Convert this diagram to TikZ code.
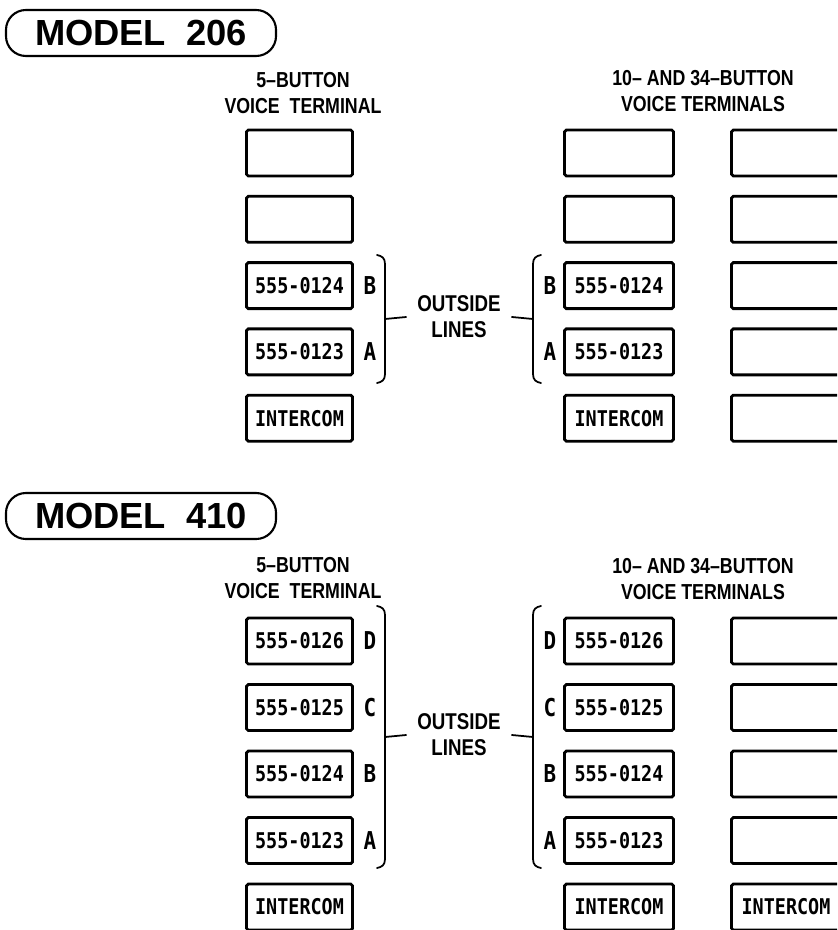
\documentclass[tikz,border=0pt]{standalone}
\usepackage{fontspec}
\setmainfont{Liberation Sans}
\newfontfamily\headfont{Liberation Sans}[FakeStretch=0.82]
\newfontfamily\keyfont{DejaVu Sans Mono}[FakeStretch=0.85]
\usetikzlibrary{positioning,calc}
\tikzset{
  titlebox/.style={draw, line width=1.8pt, rounded corners=17pt, minimum width=8.1cm, minimum height=1.38cm, inner sep=0pt, font=\bfseries\fontsize{31}{31}\selectfont},
  headlab/.style={align=center, font=\headfont\bfseries\fontsize{18.5}{22}\selectfont},
  keybox/.style={draw, line width=2.4pt, rounded corners=1.5pt, minimum width=3.18cm, minimum height=1.38cm, inner sep=0pt, font=\keyfont\bfseries\fontsize{18.5}{18.5}\selectfont},
  widebox/.style={keybox, minimum width=3.27cm},
  linelab/.style={font=\keyfont\bfseries\fontsize{21}{21}\selectfont},
  sidelab/.style={align=center, inner xsep=9.4pt, font=\headfont\bfseries\fontsize{19.5}{22}\selectfont},
  brace/.style={line width=1.5pt, line cap=round},
}

\begin{document}
\begin{tikzpicture}[x=0.03cm, y=-0.03cm]
  \useasboundingbox (0,0) rectangle (837,930);
  \clip (0,0) rectangle (837,930);

  % MODEL 206
  \node[titlebox] (t206) at (141,33) {MODEL~~206};
  \node[headlab] (h206a) at (303,93) {5–BUTTON\\VOICE~~TERMINAL};
  \node[headlab] (h206b) at (703,91) {10– AND 34–BUTTON\\VOICE TERMINALS};
  \foreach \num [count=\i] in {{},{},555-0124,555-0123,INTERCOM}{
    \node[keybox] (k206a\i) at (299.5,{153+66.3*(\i-1)}) {\num};
    \node[widebox] (k206b\i) at (619,{153+66.3*(\i-1)}) {\num};
    \node[widebox] (k206c\i) at (786,{153+66.3*(\i-1)}) {};
  }
  \foreach \ltr/\i in {B/3,A/4}{
    \node[linelab] (l206a\i) at (370,{153+66.3*(\i-1)}) {\ltr};
    \node[linelab] (l206b\i) at (550,{153+66.3*(\i-1)}) {\ltr};
  }
  \node[sidelab] (ol206) at (459,317) {OUTSIDE\\LINES};
  \begin{scope}[shift={(385,319)}]
    \draw[brace] (-8,-64) .. controls (-3,-63) and (0,-61) .. (0,-55) -- (0,55) .. controls (0,61) and (-3,63) .. (-8,64);
    \coordinate (c206a) at (0,0);
  \end{scope}
  \begin{scope}[shift={(533,319)}, xscale=-1]
    \draw[brace] (-8,-64) .. controls (-3,-63) and (0,-61) .. (0,-55) -- (0,55) .. controls (0,61) and (-3,63) .. (-8,64);
    \coordinate (c206b) at (0,0);
  \end{scope}
  \draw[brace] (c206a) -- (ol206.west);
  \draw[brace] (c206b) -- (ol206.east);

  % MODEL 410
  \node[titlebox] (t410) at (141,516) {MODEL~~410};
  \node[headlab] (h410a) at (303,578) {5–BUTTON\\VOICE~~TERMINAL};
  \node[headlab] (h410b) at (703,579) {10– AND 34–BUTTON\\VOICE TERMINALS};
  \foreach \num [count=\i] in {555-0126,555-0125,555-0124,555-0123,INTERCOM}{
    \node[keybox] (k410a\i) at (299.5,{641+66.5*(\i-1)}) {\num};
    \node[widebox] (k410b\i) at (619,{641+66.5*(\i-1)}) {\num};
  }
  \foreach \num [count=\i] in {{},{},{},{},INTERCOM}{
    \node[widebox] (k410c\i) at (786,{641+66.5*(\i-1)}) {\num};
  }
  \foreach \ltr/\i in {D/1,C/2,B/3,A/4}{
    \node[linelab] (l410a\i) at (370,{641+66.5*(\i-1)}) {\ltr};
    \node[linelab] (l410b\i) at (550,{641+66.5*(\i-1)}) {\ltr};
  }
  \node[sidelab] (ol410) at (459,735) {OUTSIDE\\LINES};
  \begin{scope}[shift={(385,737)}]
    \draw[brace] (-8,-131) .. controls (-3,-130) and (0,-128) .. (0,-122) -- (0,122) .. controls (0,128) and (-3,130) .. (-8,131);
    \coordinate (c410a) at (0,0);
  \end{scope}
  \begin{scope}[shift={(533,737)}, xscale=-1]
    \draw[brace] (-8,-131) .. controls (-3,-130) and (0,-128) .. (0,-122) -- (0,122) .. controls (0,128) and (-3,130) .. (-8,131);
    \coordinate (c410b) at (0,0);
  \end{scope}
  \draw[brace] (c410a) -- (ol410.west);
  \draw[brace] (c410b) -- (ol410.east);
\end{tikzpicture}
\end{document}
